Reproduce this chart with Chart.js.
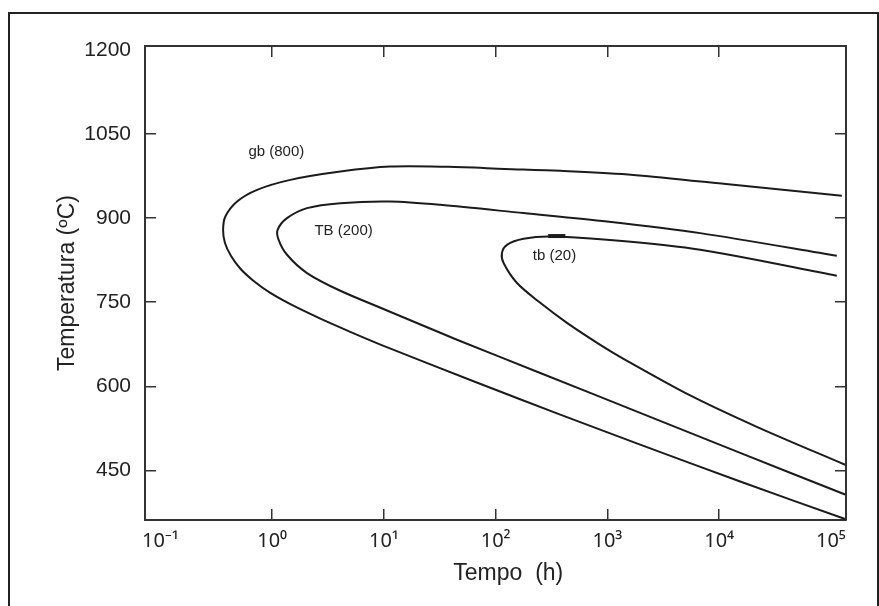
<!DOCTYPE html>
<html>
<head>
<meta charset="utf-8">
<script src="https://cdn.jsdelivr.net/npm/chart.js@4.4.1/dist/chart.umd.min.js"></script>
<style>
  html, body { margin: 0; padding: 0; background: #fff; overflow: hidden; }
  #wrap { position: relative; width: 879px; height: 606px; }
  #frame {
    position: absolute; left: 8px; top: 12px; width: 867px; height: 700px;
    border: 2px solid #222; pointer-events: none;
  }
  canvas { position: absolute; left: 0; top: 0; }
</style>
</head>
<body>
<div id="wrap">
  <canvas id="chart" width="879" height="606"></canvas>
  <div id="frame"></div>
</div>
<script>
// curve gb (800): upper branch from the right, round the nose, lower branch to the right
const gbHours = [125300, 13430, 1710, 378.4, 120.5, 37.67, 11.4, 4.074, 1.455, 0.7328, 0.4853, 0.3811, 0.3639,
  0.3776, 0.4276, 0.52, 0.6792, 0.9638, 1.517, 2.698, 5.0, 9.931, 63.39, 378.4, 1963, 15420, 134000];
const gbTemps = [939.7, 959.3, 977.1, 984.3, 987.8, 991.4, 991.9, 983.0, 968.2, 950.4, 929.6, 902.8, 879.1,
  856.0, 832.8, 809.6, 788.3, 766.5, 744.6, 720.7, 697.2, 672.2, 609.0, 549.5, 496.0, 430.1, 363.3];

// curve TB (200)
const tbBigHours = [112980, 6761, 990.8, 177.8, 31.92, 11.4, 4.074, 2.051, 1.358, 1.119,
  1.143, 1.358, 2.051, 4.074, 10.28, 45.08, 250.6, 1963, 15420, 134000];
const tbBigTemps = [832.8, 873.2, 893.9, 908.9, 923.7, 929.6, 926.7, 917.8, 899.9, 879.1,
  861.3, 834.6, 802.0, 770.4, 736.6, 683.1, 623.8, 552.5, 481.2, 406.9];

// curve tb (20)
const tbSmallHours = [112980, 6761, 990.8, 308.3, 177.8, 126.2, 113.8,
  117.8, 155.2, 250.6, 434.5, 863.0, 1393, 5508, 21730, 134000];
const tbSmallTemps = [797.2, 843.5, 861.3, 867.2, 863.1, 852.4, 837.6,
  819.8, 784.2, 748.9, 713.2, 674.0, 649.1, 583.7, 527.7, 460.0];

// short thick dash on top of tb (20)
const dashHours = [295, 420];
const dashTemps = [868, 868];

const labelTexts = ["gb (800)", "TB (200)", "tb (20)"];
const labelHours = [1.09, 4.36, 336];
const labelTemps = [1018.7, 877.7, 833.2];

const xTickValues = [0.1, 1, 10, 100, 1000, 10000, 100000];
const xTickLabels = ["10⁻¹", "10⁰", "10¹", "10²", "10³", "10⁴", "10⁵"];
const yTickValues = [450, 600, 750, 900, 1050, 1200];

const xMin = 0.0728;
const xMax = 136500;
const yMin = 361.5;
const yMax = 1207;

function toPoints(xs, ys) {
  let pts = [];
  for (let i = 0; i < xs.length; i++) {
    pts.push({ x: xs[i], y: ys[i] });
  }
  return pts;
}

function curve(xs, ys, width) {
  return {
    data: toPoints(xs, ys),
    showLine: true,
    borderColor: "#1b1b1b",
    borderWidth: width,
    pointRadius: 0,
    tension: 0.3,
    fill: false,
  };
}

const lineColor = "#333";
const textColor = "#222";

// draws the curve names at data positions
const curveLabels = {
  id: "curveLabels",
  afterDatasetsDraw(chart) {
    let ctx = chart.ctx;
    let xs = chart.scales.x;
    let ys = chart.scales.y;
    ctx.save();
    ctx.font = '15px "Liberation Sans", Arial, sans-serif';
    ctx.fillStyle = textColor;
    ctx.textAlign = "center";
    ctx.textBaseline = "middle";
    for (let i = 0; i < labelTexts.length; i++) {
      ctx.fillText(labelTexts[i], xs.getPixelForValue(labelHours[i]), ys.getPixelForValue(labelTemps[i]));
    }
    ctx.restore();
  },
};

function setXTicks(scale) {
  scale.ticks = xTickValues.map((v) => ({ value: v }));
}
function setYTicks(scale) {
  scale.ticks = yTickValues.map((v) => ({ value: v }));
}

// ticks at 10^-1 and 10^5 carry a label but no mark
function xTickColor(c) {
  if (c.index === 0 || c.index === xTickValues.length - 1) return "rgba(0,0,0,0)";
  return lineColor;
}
function yTickColor(c) {
  if (c.index === yTickValues.length - 1) return "rgba(0,0,0,0)";
  return lineColor;
}

Chart.defaults.font.family = '"Liberation Sans", Arial, sans-serif';
Chart.defaults.color = textColor;

new Chart(document.getElementById("chart").getContext("2d"), {
  type: "scatter",
  data: {
    datasets: [
      curve(gbHours, gbTemps, 2),
      curve(tbBigHours, tbBigTemps, 2),
      curve(tbSmallHours, tbSmallTemps, 2),
      Object.assign(curve(dashHours, dashTemps, 4), { tension: 0 }),
    ],
  },
  options: {
    responsive: false,
    animation: false,
    layout: { padding: 0 },
    plugins: {
      legend: { display: false },
      tooltip: { enabled: false },
    },
    scales: {
      x: {
        type: "logarithmic",
        position: "bottom",
        min: xMin,
        max: xMax,
        afterBuildTicks: setXTicks,
        afterFit: (s) => { s.height = 86; },
        ticks: {
          autoSkip: false,
          maxRotation: 0,
          padding: 20,
          font: { family: '"Noto Sans", "Liberation Sans", sans-serif', size: 20 },
          callback: function (value) {
            let i = xTickValues.indexOf(value);
            return i >= 0 ? xTickLabels[i] : "";
          },
        },
        grid: { drawOnChartArea: false, drawTicks: true, tickLength: -11, color: xTickColor, lineWidth: 1.5 },
        border: { display: true, color: lineColor, width: 2 },
        title: { display: true, text: "    Tempo  (h)", font: { size: 23 }, padding: { top: 0, bottom: 19 } },
      },
      x2: {
        axis: "x",
        type: "logarithmic",
        position: "top",
        min: xMin,
        max: xMax,
        afterBuildTicks: setXTicks,
        afterFit: (s) => { s.height = 46; },
        ticks: { display: false },
        grid: { drawOnChartArea: false, drawTicks: true, tickLength: -11, color: xTickColor, lineWidth: 1.5 },
        border: { display: true, color: lineColor, width: 2 },
      },
      y: {
        type: "linear",
        position: "left",
        min: yMin,
        max: yMax,
        afterBuildTicks: setYTicks,
        afterFit: (s) => { s.width = 145; },
        ticks: {
          padding: 25,
          font: { size: 21 },
          callback: (value) => String(value),
        },
        grid: { drawOnChartArea: false, drawTicks: true, tickLength: -11, color: yTickColor, lineWidth: 1.5 },
        border: { display: true, color: lineColor, width: 2 },
        title: { display: true, text: "Temperatura (ºC)", font: { size: 23 }, padding: { top: 54, bottom: 0 } },
      },
      y2: {
        axis: "y",
        type: "linear",
        position: "right",
        min: yMin,
        max: yMax,
        afterBuildTicks: setYTicks,
        afterFit: (s) => { s.width = 33; },
        ticks: { display: false },
        grid: { drawOnChartArea: false, drawTicks: true, tickLength: -11, color: yTickColor, lineWidth: 1.5 },
        border: { display: true, color: lineColor, width: 2 },
      },
    },
  },
  plugins: [curveLabels],
});
</script>
</body>
</html>
